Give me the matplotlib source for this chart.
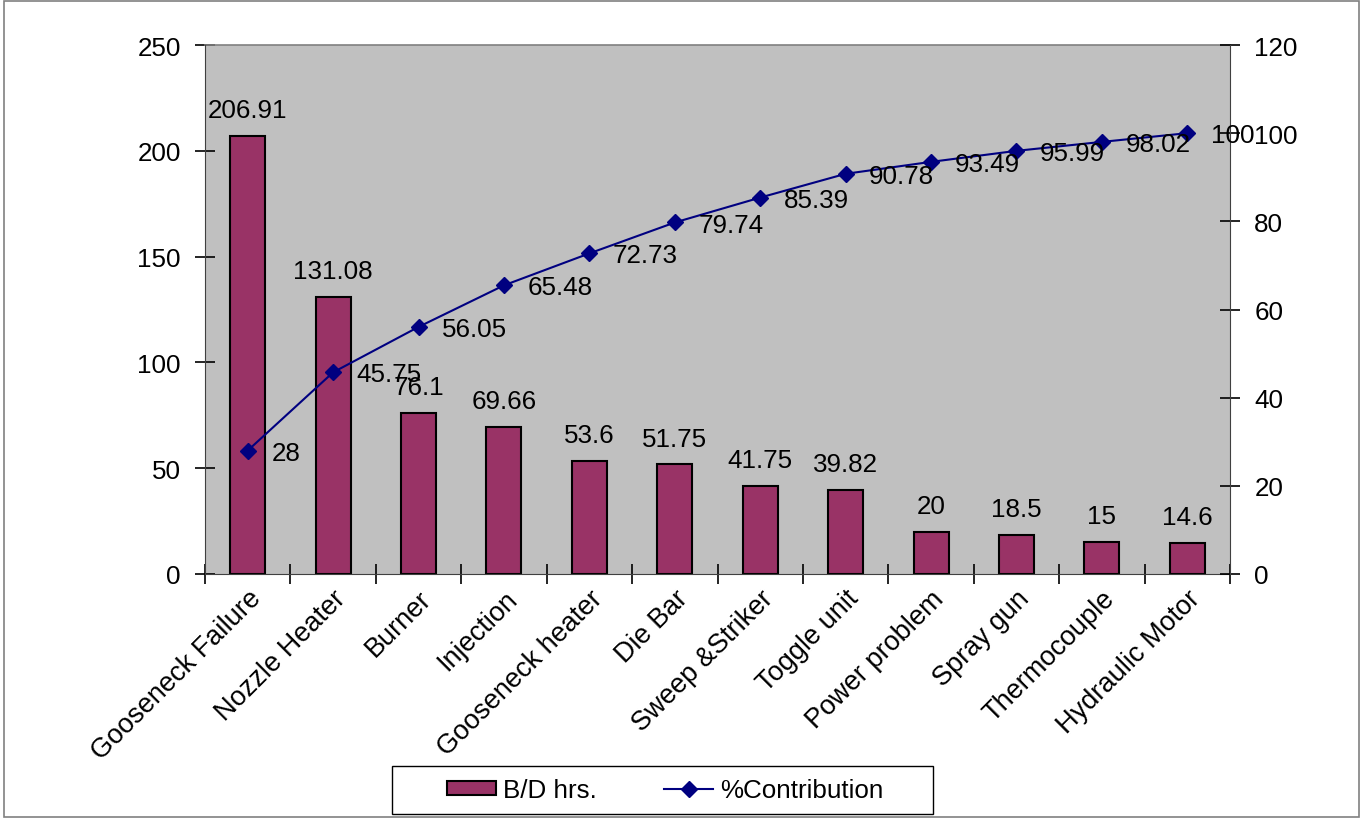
import matplotlib
matplotlib.use("Agg")
import matplotlib.pyplot as plt
import matplotlib.transforms as mtransforms
from matplotlib.patches import Rectangle
from matplotlib.lines import Line2D

plt.rcParams['font.family'] = ['Liberation Sans', 'DejaVu Sans']

# data
causes = ["Gooseneck Failure", "Nozzle Heater", "Burner", "Injection",
          "Gooseneck heater", "Die Bar", "Sweep &Striker", "Toggle unit",
          "Power problem", "Spray gun", "Thermocouple", "Hydraulic Motor"]
bd_hrs = [206.91, 131.08, 76.1, 69.66, 53.6, 51.75, 41.75, 39.82, 20, 18.5, 15, 14.6]
bd_labels = ["206.91", "131.08", "76.1", "69.66", "53.6", "51.75", "41.75",
             "39.82", "20", "18.5", "15", "14.6"]
contrib = [28, 45.75, 56.05, 65.48, 72.73, 79.74, 85.39, 90.78, 93.49, 95.99, 98.02, 100]
contrib_labels = ["28", "45.75", "56.05", "65.48", "72.73", "79.74", "85.39",
                  "90.78", "93.49", "95.99", "98.02", "100"]

bar_color = "#993366"
line_color = "#000080"
fs = 18.7

fig = plt.figure(figsize=(13.63, 8.2), dpi=100)
ax = fig.add_axes([205 / 1363, 1 - 575 / 820, 1025 / 1363, 529 / 820])
ax.set_facecolor("#C0C0C0")

x = list(range(len(causes)))
ax.bar(x, bd_hrs, width=0.41, color=bar_color, edgecolor="black", linewidth=1.5, zorder=2)
for xi, v, lab in zip(x, bd_hrs, bd_labels):
    ax.annotate(lab, (xi, v), xytext=(0, 10), textcoords="offset points",
                ha="center", va="bottom", fontsize=fs)

ax.set_xlim(-0.5, len(causes) - 0.5)
ax.set_ylim(0, 250)
ax.set_yticks(range(0, 251, 50))
ax.set_xticks([i + 0.5 for i in range(-1, len(causes))], minor=False)
ax.set_xticklabels([])
ax.set_xticks(x, minor=True)
ax.set_xticklabels(causes, minor=True, rotation=45, ha="right", rotation_mode="anchor",
                   fontsize=19.5)
shift = mtransforms.ScaledTranslation(-6 / 100, -4 / 100, fig.dpi_scale_trans)
for t in ax.get_xticklabels(minor=True):
    t.set_transform(t.get_transform() + shift)
ax.tick_params(axis="x", which="minor", length=0, pad=8)
ax.tick_params(axis="x", which="major", direction="inout", length=15, width=1.2)
ax.tick_params(axis="y", direction="inout", length=15, width=1.2, labelsize=fs, pad=10)
for s in ["top", "right"]:
    ax.spines[s].set_visible(False)
ax.spines["left"].set_color("#404040")
ax.spines["bottom"].set_color("#404040")

ax2 = ax.twinx()
ax2.plot(x, contrib, color=line_color, marker="D", markersize=8, linewidth=1.5, zorder=3)
for xi, v, lab in zip(x, contrib, contrib_labels):
    ax2.annotate(lab, (xi, v), xytext=(17, -1.5), textcoords="offset points",
                 ha="left", va="center", fontsize=fs)
ax2.set_ylim(0, 120)
ax2.set_yticks(range(0, 121, 20))
ax2.tick_params(axis="y", direction="inout", length=15, width=1.2, labelsize=fs, pad=10)
for s in ["top", "left", "bottom"]:
    ax2.spines[s].set_visible(False)
ax2.spines["right"].set_color("#404040")

# top edge of the plot area
ax.plot([0, 1], [1, 1], transform=ax.transAxes, color="#808080", linewidth=1.2, clip_on=False)

# legend: box drawn separately so the padding can match
fig.patches.append(Rectangle((392 / 1363, 1 - 815 / 820), 541 / 1363, 48 / 820,
                             transform=fig.transFigure, fill=False,
                             edgecolor="black", linewidth=1.0))
handles = [Rectangle((0, 0), 1, 1, facecolor=bar_color, edgecolor="black", linewidth=1.5),
           Line2D([], [], color=line_color, marker="D", markersize=8, linewidth=1.5)]
fig.legend(handles, ["B/D hrs.", "%Contribution"], loc="center",
           bbox_to_anchor=(665 / 1363, 1 - 791 / 820), ncol=2, fontsize=fs,
           frameon=False, borderpad=0.2, columnspacing=2.6, handlelength=1.9,
           handletextpad=0.25, handleheight=0.45)

fig.patches.append(Rectangle((0.003, 0.003), 0.994, 0.994, transform=fig.transFigure,
                             fill=False, edgecolor="#808080", linewidth=1.2))

fig.savefig("out.png", dpi=100)
